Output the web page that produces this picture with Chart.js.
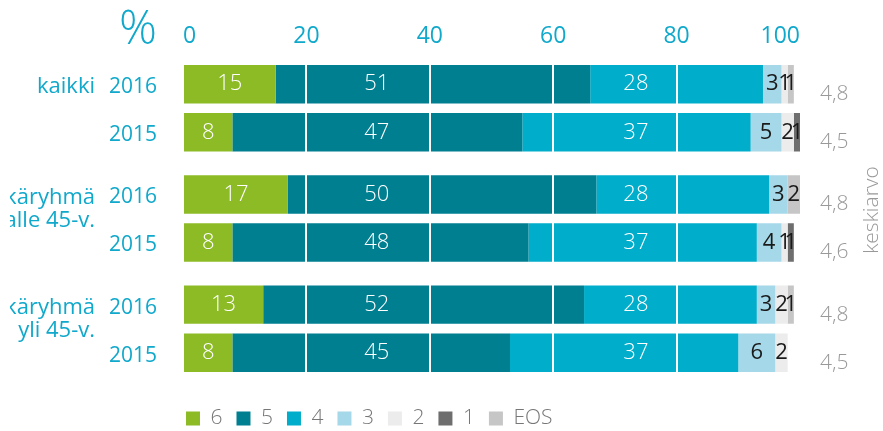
<!DOCTYPE html>
<html>
<head>
<meta charset="utf-8">
<script src="https://cdn.jsdelivr.net/npm/chart.js@4/dist/chart.umd.min.js"></script>
<style>
html,body{margin:0;padding:0;background:#fff;}
</style>
</head>
<body>
<canvas id="chart" width="883" height="431"></canvas>
<script>
var groups=[['kaikki'],['ikäryhmä','alle 45-v.'],['ikäryhmä','yli 45-v.']];
var years=['2016','2015'];
var scores=['6','5','4','3','2','1','EOS'];

// % of answers, order 6,5,4,3,2,1,EOS
var kaikki2016=[15,51,28,3,1,0,1];
var kaikki2015=[8,47,37,5,2,1,0];
var alle2016=[17,50,28,3,0,0,2];
var alle2015=[8,48,37,4,1,1,0];
var yli2016=[13,52,28,3,2,0,1];
var yli2015=[8,45,37,6,2,0,0];

var mean2016=[4.8,4.8,4.8];
var mean2015=[4.5,4.6,4.5];

var colors=['#8cbb26','#007f91','#00adca','#a5d8e8','#ececec','#6e6e6e','#c6c6c6'];
var textColors=['#fff','#fff','#fff','#1a1a1a','#1a1a1a','#1a1a1a','#1a1a1a'];
var cyan='#10a8cb';
var grey='#999';
var fam="'Open Sans', sans-serif";

Chart.defaults.font.family=fam;

var rows={'2016':[kaikki2016,alle2016,yli2016],'2015':[kaikki2015,alle2015,yli2015]};
var datasets=[];
years.forEach(function(year){
    scores.forEach(function(s,i){
        datasets.push({
            label:s,
            stack:year,
            data:rows[year].map(function(r){return r[i];}),
            backgroundColor:colors[i],
            borderWidth:0,
            categoryPercentage:0.873,
            barPercentage:0.8
        });
    });
});

// where the labels of the big segments sit (value on x scale), null = middle of segment
var labelAt=[null,31.4,73.4];

var textPlugin={
    id:'texts',
    afterDraw:function(chart){
        var c=chart.ctx, xs=chart.scales.x;
        c.save();
        c.textBaseline='middle';
        c.textAlign='center';
        chart.data.datasets.forEach(function(ds,d){
            var s=d%7;
            c.font=(s<3?'300':'400')+' 22px '+fam;
            chart.getDatasetMeta(d).data.forEach(function(bar,i){
                var v=ds.data[i];
                if(!v) return;
                var x=labelAt[s]!=null?xs.getPixelForValue(labelAt[s]):(bar.base+bar.x)/2;
                c.fillStyle=textColors[s];
                c.fillText(v,x,bar.y);
            });
        });

        var top=chart.getDatasetMeta(0).data, bot=chart.getDatasetMeta(7).data;
        for(var i=0;i<groups.length;i++){
            c.font='400 21px '+fam;
            c.fillStyle=cyan;
            c.textAlign='right';
            c.fillText(years[0],157,top[i].y+3);
            c.fillText(years[1],157,bot[i].y+3);
            c.save();
            c.beginPath();
            c.rect(10,0,100,chart.height);
            c.clip();
            c.font='400 22px '+fam;
            c.fillText(groups[i][0],95,top[i].y+3);
            if(groups[i][1]) c.fillText(groups[i][1],95,top[i].y+26);
            c.restore();
            c.font='300 21px '+fam;
            c.fillStyle=grey;
            c.textAlign='left';
            c.fillText(String(mean2016[i]).replace('.',','),820,top[i].y+10);
            c.fillText(String(mean2015[i]).replace('.',','),820,bot[i].y+10);
        }

        c.fillStyle=cyan;
        c.textAlign='center';
        c.font='300 47px '+fam;
        c.fillText('%',138,31);

        c.fillStyle=grey;
        c.font='300 21px '+fam;
        c.translate(872,210);
        c.rotate(-Math.PI/2);
        c.fillText('keskiarvo',0,0);
        c.restore();
    }
};

new Chart(document.getElementById('chart'),{
    type:'bar',
    data:{labels:['kaikki','alle 45-v.','yli 45-v.'],datasets:datasets},
    options:{
        indexAxis:'y',
        responsive:false,
        animation:false,
        layout:{padding:{left:172,right:83,top:19.5,bottom:-8}},
        scales:{
            x:{
                position:'top',
                min:0,
                max:100,
                stacked:true,
                border:{display:false},
                grid:{
                    z:1,
                    drawTicks:false,
                    lineWidth:2,
                    color:function(ctx){
                        var v=ctx.tick?ctx.tick.value:0;
                        return v>0&&v<100?'#fff':'rgba(0,0,0,0)';
                    }
                },
                ticks:{stepSize:20,align:'inner',padding:3,color:cyan,font:{size:23,weight:'400'}}
            },
            y:{
                stacked:true,
                grid:{display:false},
                border:{display:false},
                ticks:{display:false},
                afterFit:function(scale){scale.width=11;}
            }
        },
        plugins:{
            legend:{
                position:'bottom',
                align:'start',
                title:{display:true,text:'',padding:{top:9,bottom:0},font:{size:1}},
                labels:{
                    boxWidth:14,
                    boxHeight:14,
                    padding:14,
                    color:'#777',
                    font:{size:21,weight:'300'},
                    filter:function(item){return item.datasetIndex<7;}
                }
            },
            tooltip:{enabled:false}
        }
    },
    plugins:[textPlugin]
});
</script>
</body>
</html>
